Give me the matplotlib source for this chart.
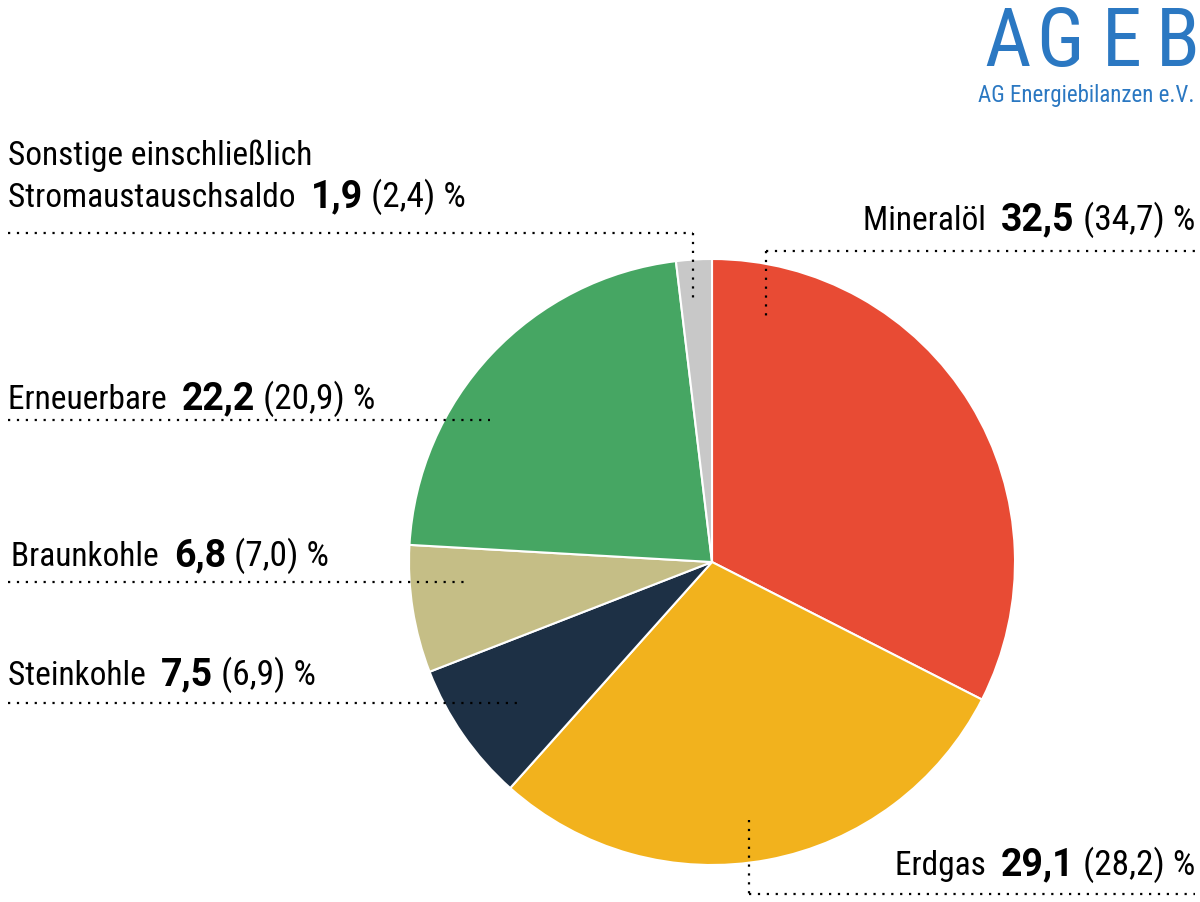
import matplotlib
matplotlib.use("Agg")
import matplotlib.pyplot as plt
from matplotlib import font_manager as fm

names = {f.name for f in fm.fontManager.ttflist}
FONT = "DejaVu Sans"
for cand in ["Roboto Condensed", "Barlow Semi Condensed", "PT Sans Narrow",
             "Archivo Narrow", "Asap Condensed"]:
    if cand in names:
        FONT = cand
        break
BOLD_FONT = "Roboto" if "Roboto" in names else FONT

categories = ["Mineralöl", "Erdgas", "Steinkohle", "Braunkohle", "Erneuerbare",
              "Sonstige einschließlich\nStromaustauschsaldo"]
shares = [32.5, 29.1, 7.5, 6.8, 22.2, 1.9]
previous = [34.7, 28.2, 6.9, 7.0, 20.9, 2.4]
colors = ["#E84B34", "#F2B21D", "#1D3045", "#C5BE86", "#46A663", "#C8C8C8"]

W, H = 1200, 902
fig = plt.figure(figsize=(W / 100, H / 100), dpi=100)

# pie axes
cx, cy, r = 712, 562, 303
pax = fig.add_axes([(cx - r) / W, (H - cy - r) / H, 2 * r / W, 2 * r / H])
pax.pie(shares, colors=colors, startangle=90, counterclock=False, radius=1,
        wedgeprops=dict(edgecolor="white", linewidth=1.5))
pax.set_xlim(-1, 1)
pax.set_ylim(-1, 1)
pax.set_aspect("auto")
pax.axis("off")

# overlay axes in pixel coordinates
ax = fig.add_axes([0, 0, 1, 1], facecolor="none")
ax.set_xlim(0, W)
ax.set_ylim(H, 0)
ax.axis("off")

renderer = fig.canvas.get_renderer()
FS = 24
FS_VAL = 25.5
FS_BOLD = 27


def fmt(v):
    return f"{v:.1f}".replace(".", ",")


def draw_parts(x, y, parts, ha="left"):
    objs = []
    widths = []
    for txt, kind in parts:
        if kind == "bold":
            t = ax.text(0, y, txt, fontsize=FS_BOLD, fontweight="bold",
                        family=BOLD_FONT, va="baseline", ha="left")
        elif kind == "val":
            t = ax.text(0, y, txt, fontsize=FS_VAL, family=FONT,
                        va="baseline", ha="left")
        else:
            t = ax.text(0, y, txt, fontsize=FS, family=FONT,
                        va="baseline", ha="left")
        bb = t.get_window_extent(renderer=renderer)
        objs.append(t)
        widths.append(bb.width)
    total = sum(widths)
    start = x if ha == "left" else x - total
    for t, w in zip(objs, widths):
        t.set_x(start)
        start += w


def label_parts(i):
    name = categories[i].split("\n")[-1]
    return [(name + "  ", "normal"), (fmt(shares[i]), "bold"),
            (" (" + fmt(previous[i]) + ") %", "val")]


dot = dict(color="black", linestyle=(0, (1, 3)), linewidth=1.6)

# Mineralöl
draw_parts(1195, 230, label_parts(0), ha="right")
ax.plot([766, 1195], [251, 251], **dot)
ax.plot([766, 766], [251, 316], **dot)

# Erdgas
draw_parts(1195, 875, label_parts(1), ha="right")
ax.plot([749, 1195], [894, 894], **dot)
ax.plot([749, 749], [820, 894], **dot)

# Steinkohle
draw_parts(8, 685, label_parts(2))
ax.plot([8, 522], [703, 703], **dot)

# Braunkohle
draw_parts(11, 566, label_parts(3))
ax.plot([8, 470], [582, 582], **dot)

# Erneuerbare
draw_parts(8, 409, label_parts(4))
ax.plot([8, 490], [420, 420], **dot)

# Sonstige
first = categories[5].split("\n")[0]
draw_parts(8, 165, [(first, "normal")])
draw_parts(8, 207, label_parts(5))
ax.plot([8, 693], [233, 233], **dot)
ax.plot([693, 693], [233, 298], **dot)

# Logo
blue = "#2B78C2"
for letter, xc in zip("AGEB", [1008, 1060, 1122, 1178]):
    ax.text(xc, 66, letter, fontsize=58, family=FONT, color=blue,
            ha="center", va="baseline")
ax.text(1195, 102, "AG Energiebilanzen e.V.", fontsize=16.5, family=FONT,
        color=blue, ha="right", va="baseline")

fig.savefig("out.png", dpi=100)
